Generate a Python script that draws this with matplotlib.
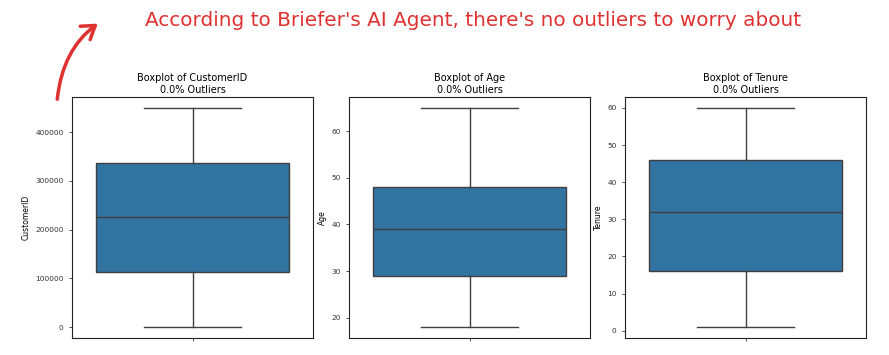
import matplotlib
matplotlib.use("Agg")
import matplotlib.pyplot as plt

# Summary stats (no outliers in any column)
columns = ["CustomerID", "Age", "Tenure"]
whisker_low = [0, 18, 1]
q1 = [113600, 29, 16]
median = [226400, 39, 32]
q3 = [337800, 48, 46]
whisker_high = [450000, 65, 60]
outlier_pct = [0.0, 0.0, 0.0]
yticks = [[0, 100000, 200000, 300000, 400000],
          [20, 30, 40, 50, 60],
          [0, 10, 20, 30, 40, 50, 60]]

note = "According to Briefer's AI Agent, there's no outliers to worry about"

box_color = "#3274a1"
line_color = "#3f3f3f"
red = "#e03131"

fig = plt.figure(figsize=(8.89, 3.55), dpi=100)

lefts = [72 / 889, 349 / 889, 625 / 889]
for i, col in enumerate(columns):
    ax = fig.add_axes([lefts[i], 17 / 355, 241 / 889, 241 / 355])
    stats = [{
        "med": median[i], "q1": q1[i], "q3": q3[i],
        "whislo": whisker_low[i], "whishi": whisker_high[i],
        "fliers": [],
    }]
    ax.bxp(stats, positions=[0], widths=0.8, patch_artist=True, showfliers=False,
           boxprops=dict(facecolor=box_color, edgecolor=line_color, linewidth=1.0),
           whiskerprops=dict(color=line_color, linewidth=1.0),
           capprops=dict(color=line_color, linewidth=1.0),
           medianprops=dict(color=line_color, linewidth=1.0),
           capwidths=0.4)
    ax.set_xlim(-0.5, 0.5)
    ax.set_xticks([0])
    ax.set_xticklabels([""])
    ax.set_yticks(yticks[i])
    ax.tick_params(labelsize=5.3, length=2.5, width=0.6, colors="#333333")
    ax.set_ylabel(col, fontsize=5.5, labelpad=3)
    ax.set_title("Boxplot of %s\n%.1f%% Outliers" % (col, outlier_pct[i]),
                 fontsize=7, pad=3, linespacing=1.25)
    for s in ax.spines.values():
        s.set_linewidth(0.8)
        s.set_color("#222222")

# the red hand-drawn note, sized so it spans about 658 px
t = fig.text(145 / 889, 1 - 21 / 355, note, color=red, fontsize=14,
             ha="left", va="center", family="DejaVu Sans")
fig.canvas.draw()
w = t.get_window_extent().width
t.set_fontsize(14 * 658 / w)

# arrow: mostly straight up, then bending right
fig.add_artist(matplotlib.patches.FancyArrowPatch(
    (57 / 889, 1 - 102 / 355), (100 / 889, 1 - 22 / 355),
    transform=fig.transFigure, connectionstyle="angle3,angleA=85,angleB=35",
    arrowstyle="->,head_length=6,head_width=4", color=red, linewidth=2.5,
    mutation_scale=1.5, capstyle="round", joinstyle="round"))

fig.savefig("out.png", dpi=100)
